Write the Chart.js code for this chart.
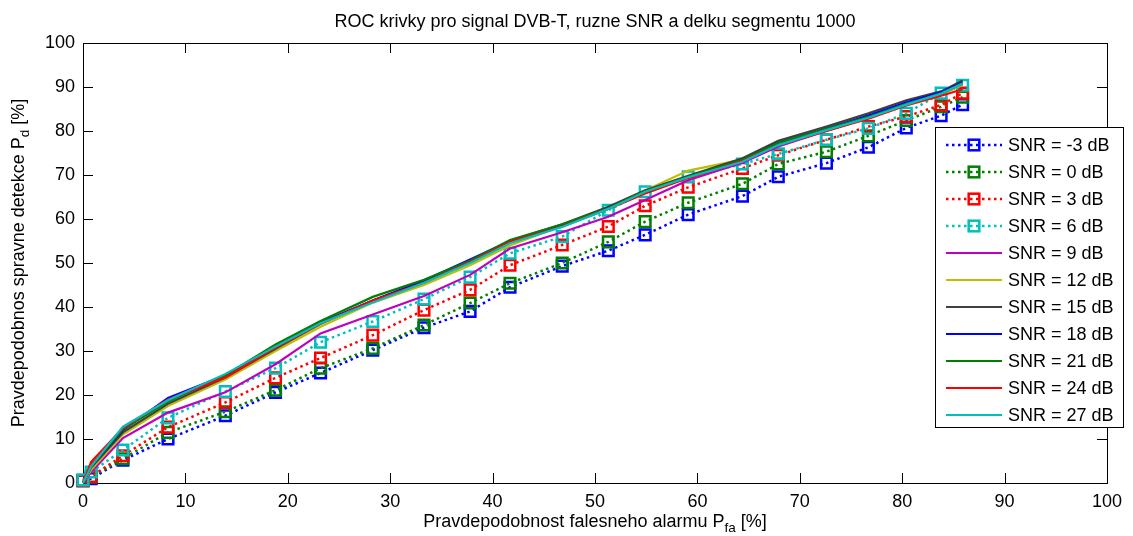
<!DOCTYPE html>
<html><head><meta charset="utf-8">
<script src="https://cdn.jsdelivr.net/npm/chart.js@4/dist/chart.umd.min.js"></script>
<style>html,body{margin:0;padding:0;background:#fff}#wrap{width:1133px;height:536px;position:relative}</style>
</head><body><div id="wrap"><canvas id="c" width="1133" height="536"></canvas></div>
<script>
const pfa = [0, 0.8, 3.9, 8.3, 13.9, 18.8, 23.2, 28.3, 33.3, 37.8, 41.7, 46.8, 51.3, 54.9, 59.1, 64.4, 67.9, 72.6, 76.7, 80.4, 83.8, 85.9];
const snrM3 = [0.5, 1, 5.2, 10, 15.3, 20.6, 25, 30.2, 35.3, 39, 44.5, 49.3, 52.8, 56.4, 61, 65.2, 69.6, 72.7, 76.3, 80.7, 83.5, 86];
const snr0  = [0.5, 1.3, 5.5, 11.5, 16.2, 21.1, 26.1, 30.6, 35.9, 40.9, 45.4, 50, 54.8, 59.4, 63.7, 68, 72.5, 75.3, 78.9, 82.4, 85.5, 87.7];
const snr3  = [0.5, 1.5, 6.2, 12.7, 18.3, 23.9, 28.4, 33.6, 39.3, 43.9, 49.5, 54.1, 58.3, 63, 67.2, 71.5, 74.5, 78, 81, 83.3, 85.9, 88.6];
const snr6  = [0.7, 2.5, 7.5, 14.8, 20.8, 26.1, 32, 36.7, 41.8, 46.8, 52.2, 56, 62, 66.2, 69.6, 72.5, 74.8, 78, 80.6, 84, 88.6, 90.4];
const snr9  = [0, 2.5, 10.2, 16.0, 20.6, 27.0, 34.0, 38.3, 42.5, 47.3, 53.3, 57.0, 60.5, 64.3, 68.8, 72.8, 76.5, 80, 83, 86, 88.5, 90.5];
const snr12 = [0, 3, 11, 17.5, 23.5, 30, 35.5, 41, 45, 49.5, 54, 58.5, 62.5, 66.5, 71, 73.5, 77, 80.2, 83, 86, 88.3, 90.5];
const snr15 = [0, 3.5, 11.5, 18, 24, 30.5, 36.2, 41.5, 45.8, 50.2, 55, 58.8, 62.8, 66.5, 69.8, 73.8, 77.8, 81, 84, 87, 89, 91.5];
const snr18 = [0, 4, 12, 19.3, 24.5, 31, 36.5, 41.5, 46, 50.8, 55, 58.5, 62.5, 66, 69.5, 73.5, 77.3, 80.5, 83.5, 86.5, 88.8, 91];
const snr21 = [0, 4, 12.2, 18.5, 24.5, 31.5, 36.8, 42.3, 46.2, 50.5, 55.2, 58.8, 62.5, 66.3, 69.6, 73.5, 77.3, 80.5, 83.2, 86.2, 88.5, 90.8];
const snr24 = [0, 4.8, 12.5, 19, 24, 30.8, 36.2, 41.5, 45.5, 50.2, 54.8, 58.3, 62.3, 65.8, 69.3, 73.2, 76.8, 80, 82.8, 85.8, 88, 89.5];
const snr27 = [0, 3.8, 12.8, 18.8, 24.8, 31, 36.3, 41, 45.5, 50, 54.5, 58.2, 62.3, 66.2, 69.5, 73, 76.8, 80.2, 83, 86, 88.5, 90.8];
const labels = ['SNR = -3 dB','SNR = 0 dB','SNR = 3 dB','SNR = 6 dB','SNR = 9 dB','SNR = 12 dB','SNR = 15 dB','SNR = 18 dB','SNR = 21 dB','SNR = 24 dB','SNR = 27 dB'];
const xTicks = [0,10,20,30,40,50,60,70,80,90,100];
const yTicks = [0,10,20,30,40,50,60,70,80,90,100];
const titleText = 'ROC krivky pro signal DVB-T, ruzne SNR a delku segmentu 1000';

const FONT = '"Liberation Sans", Arial, Helvetica, sans-serif';
const series = [snrM3, snr0, snr3, snr6, snr9, snr12, snr15, snr18, snr21, snr24, snr27];
const colors = ['#0000FF','#008000','#FF0000','#00BFBF','#BF00BF','#BFBF00','#404040','#0000FF','#008000','#FF0000','#00BFBF'];
const dotted = [true,true,true,true,false,false,false,false,false,false,false];

const datasets = series.map((s,i)=>({
  label: labels[i],
  data: s.map((v,j)=>({x: pfa[j], y: v})),
  borderColor: colors[i],
  backgroundColor: colors[i],
  borderWidth: dotted[i] ? 2.5 : 2.2,
  borderDash: dotted[i] ? [2.5, 3.5] : [],
  pointStyle: 'rect',
  pointRadius: dotted[i] ? 7.5 : 0,
  pointHoverRadius: dotted[i] ? 7.5 : 0,
  pointBorderWidth: 2.5,
  pointBorderColor: colors[i],
  pointBackgroundColor: 'rgba(0,0,0,0)',
  tension: 0,
  clip: false,
  order: 11 - i
}));

function subText(ctx, parts, cx, cy, size){
  let total = 0;
  const w = parts.map(p=>{ctx.font = (p[1]? size*0.75 : size)+'px '+FONT; const m = ctx.measureText(p[0]).width; total += m; return m;});
  let x = cx - total/2;
  parts.forEach((p,i)=>{
    ctx.font = (p[1]? size*0.75 : size)+'px '+FONT;
    ctx.textAlign='left'; ctx.textBaseline='middle';
    ctx.fillText(p[0], x, cy + (p[1]? size*0.35 : 0));
    x += w[i];
  });
}

const framePlugin = {
  id: 'frame',
  beforeDatasetsDraw(chart){
    const {ctx, chartArea:a, scales:{x, y}} = chart;
    ctx.save();
    ctx.strokeStyle = '#000'; ctx.lineWidth = 1;
    ctx.strokeRect(a.left+0.5, a.top+0.5, a.right-a.left, a.bottom-a.top);
    ctx.beginPath();
    const L = 10;
    xTicks.forEach(v=>{ const px = Math.round(x.getPixelForValue(v))+0.5;
      ctx.moveTo(px, a.bottom); ctx.lineTo(px, a.bottom-L);
      ctx.moveTo(px, a.top); ctx.lineTo(px, a.top+L); });
    yTicks.forEach(v=>{ const py = Math.round(y.getPixelForValue(v))+0.5;
      ctx.moveTo(a.left, py); ctx.lineTo(a.left+L, py);
      ctx.moveTo(a.right, py); ctx.lineTo(a.right-L, py); });
    ctx.stroke();
    ctx.restore();
  },
  afterDraw(chart){
    const {ctx, chartArea:a} = chart;
    ctx.save();
    ctx.fillStyle = '#000';
    ctx.font = '18px '+FONT; ctx.textAlign='center'; ctx.textBaseline='middle';
    ctx.fillText(titleText, (a.left+a.right)/2, 22);
    subText(ctx, [['Pravdepodobnost falesneho alarmu P',false],['fa',true],[' [%]',false]], (a.left+a.right)/2, 522, 18);
    ctx.translate(19, (a.top+a.bottom)/2);
    ctx.rotate(-Math.PI/2);
    subText(ctx, [['Pravdepodobnos spravne detekce P',false],['d',true],[' [%]',false]], 0, 0, 18);
    ctx.restore();
    ctx.save();
    const bx=935, by=127, bw=188, bh=300;
    ctx.fillStyle='#fff'; ctx.fillRect(bx,by,bw,bh);
    ctx.strokeStyle='#000'; ctx.lineWidth=1; ctx.strokeRect(bx+0.5,by+0.5,bw,bh);
    chart.data.datasets.forEach((d,i)=>{
      const yy = 145 + i*27;
      ctx.strokeStyle = d.borderColor; ctx.lineWidth = d.borderWidth;
      ctx.setLineDash(d.borderDash);
      ctx.beginPath(); ctx.moveTo(946, yy); ctx.lineTo(1002, yy); ctx.stroke();
      ctx.setLineDash([]);
      if (d.pointRadius > 0){
        const s = d.pointRadius*Math.SQRT1_2;
        ctx.lineWidth = d.pointBorderWidth;
        ctx.strokeRect(974 - s, yy - s, 2*s, 2*s);
      }
      ctx.fillStyle='#000'; ctx.font='18px '+FONT; ctx.textAlign='left'; ctx.textBaseline='middle';
      ctx.fillText(d.label, 1008, yy+1);
    });
    ctx.restore();
  }
};

new Chart(document.getElementById('c'), {
  type: 'line',
  data: { datasets },
  options: {
    responsive: false,
    animation: false,
    layout: { padding: { top: 43, right: 26, left: 0, bottom: 0 } },
    plugins: { legend: { display: false }, title: { display: false }, tooltip: { enabled: false } },
    scales: {
      x: {
        type: 'linear', min: 0, max: 100,
        afterFit(s){ s.height = 53; },
        afterBuildTicks(s){ s.ticks = xTicks.map(v=>({value:v})); },
        grid: { display: false, drawTicks: false },
        border: { display: false },
        ticks: { color: '#000', padding: 8, font: { size: 18, family: FONT }, maxRotation: 0, autoSkip: false }
      },
      y: {
        type: 'linear', min: 0, max: 100,
        afterFit(s){ s.width = 83; },
        afterBuildTicks(s){ s.ticks = yTicks.map(v=>({value:v})); },
        grid: { display: false, drawTicks: false },
        border: { display: false },
        ticks: { color: '#000', padding: 8, font: { size: 18, family: FONT }, autoSkip: false }
      }
    }
  },
  plugins: [framePlugin]
});
</script></body></html>
